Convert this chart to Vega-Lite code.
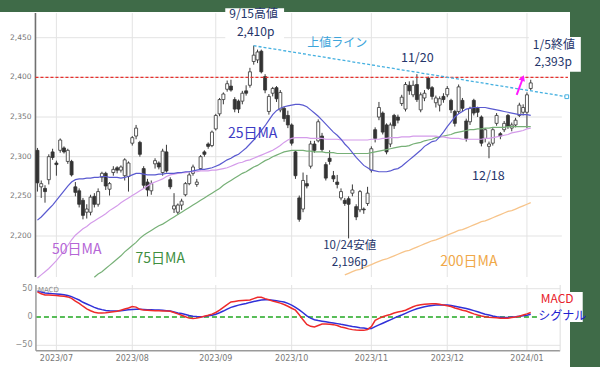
{
"$schema":"https://vega.github.io/schema/vega-lite/v6.json",
"width":570,"height":355,
"autosize":{"type":"none"},
"padding":{"left":0,"top":12,"right":30,"bottom":0},
"background":"#3f6b48",
"config":{"view":{"fill":"#ffffff","stroke":null},"text":{"font":"Noto Sans CJK JP"}},
"datasets":{"d":[
{"i":0,"o":2308,"h":2311,"l":2256,"c":2267,"ma25":2220,"ma50":2147,"macd":44.5,"signal":46},
{"i":1,"o":2262,"h":2270,"l":2248,"c":2266,"ma25":2224,"ma50":2151,"macd":41,"signal":44},
{"i":2,"o":2260,"h":2264,"l":2242,"c":2256,"ma25":2229,"ma50":2155,"macd":39,"signal":42.5},
{"i":3,"o":2271,"h":2303,"l":2265,"c":2300,"ma25":2234,"ma50":2159,"macd":38.7,"signal":41.8},
{"i":4,"o":2306,"h":2310,"l":2296,"c":2299,"ma25":2239,"ma50":2164,"macd":38.3,"signal":41.3},
{"i":5,"o":2292,"h":2295,"l":2276,"c":2290,"ma25":2245,"ma50":2169,"macd":37.8,"signal":40.6},
{"i":6,"o":2308,"h":2323,"l":2305,"c":2321,"ma25":2251,"ma50":2175,"macd":37.2,"signal":40},
{"i":7,"o":2311,"h":2313,"l":2304,"c":2306,"ma25":2257,"ma50":2181,"macd":36.5,"signal":39.3},
{"i":8,"o":2294,"h":2310,"l":2291,"c":2308,"ma25":2263,"ma50":2188,"macd":35.5,"signal":38},
{"i":9,"o":2294,"h":2296,"l":2275,"c":2277,"ma25":2268,"ma50":2195,"macd":33,"signal":36},
{"i":10,"o":2262,"h":2268,"l":2250,"c":2255,"ma25":2271,"ma50":2201,"macd":28,"signal":33},
{"i":11,"o":2257,"h":2260,"l":2236,"c":2240,"ma25":2272,"ma50":2205,"macd":24,"signal":30},
{"i":12,"o":2245,"h":2248,"l":2221,"c":2226,"ma25":2272,"ma50":2209,"macd":19,"signal":26},
{"i":13,"o":2230,"h":2240,"l":2222,"c":2234,"ma25":2273,"ma50":2212,"macd":14.5,"signal":23},
{"i":14,"o":2230,"h":2252,"l":2226,"c":2249,"ma25":2273,"ma50":2216,"macd":11,"signal":20},
{"i":15,"o":2250,"h":2254,"l":2236,"c":2240,"ma25":2274,"ma50":2219,"ma75":2148,"macd":8.5,"signal":17},
{"i":16,"o":2240,"h":2260,"l":2237,"c":2256,"ma25":2274,"ma50":2222,"ma75":2152,"macd":7,"signal":14.7},
{"i":17,"o":2274,"h":2281,"l":2268,"c":2279,"ma25":2275,"ma50":2225,"ma75":2155,"macd":7,"signal":13},
{"i":18,"o":2279,"h":2281,"l":2258,"c":2263,"ma25":2275,"ma50":2228,"ma75":2159,"macd":7.5,"signal":11.6},
{"i":19,"o":2259,"h":2268,"l":2251,"c":2266,"ma25":2274,"ma50":2232,"ma75":2163,"macd":8.5,"signal":11},
{"i":20,"o":2280,"h":2288,"l":2276,"c":2284,"ma25":2274,"ma50":2235,"ma75":2167,"macd":9.2,"signal":10.7},
{"i":21,"o":2286,"h":2288,"l":2279,"c":2283,"ma25":2274,"ma50":2238,"ma75":2171,"macd":10,"signal":10.7},
{"i":22,"o":2283,"h":2289,"l":2280,"c":2287,"ma25":2273,"ma50":2242,"ma75":2175,"macd":12,"signal":11.2},
{"i":23,"o":2276,"h":2298,"l":2270,"c":2296,"ma25":2274,"ma50":2245,"ma75":2180,"macd":14,"signal":12},
{"i":24,"o":2275,"h":2294,"l":2256,"c":2292,"ma25":2275,"ma50":2248,"ma75":2184,"macd":16,"signal":12.8},
{"i":25,"o":2317,"h":2326,"l":2314,"c":2324,"ma25":2277,"ma50":2251,"ma75":2188,"macd":18.5,"signal":13.3},
{"i":26,"o":2326,"h":2340,"l":2322,"c":2336,"ma25":2279,"ma50":2254,"ma75":2192,"macd":17.5,"signal":13.5},
{"i":27,"o":2318,"h":2320,"l":2300,"c":2303,"ma25":2279,"ma50":2257,"ma75":2197,"macd":13.5,"signal":13.5},
{"i":28,"o":2285,"h":2288,"l":2260,"c":2264,"ma25":2278,"ma50":2260,"ma75":2201,"macd":12.5,"signal":13.3},
{"i":29,"o":2268,"h":2272,"l":2250,"c":2258,"ma25":2277,"ma50":2263,"ma75":2204,"macd":12,"signal":13},
{"i":30,"o":2257,"h":2270,"l":2252,"c":2266,"ma25":2277,"ma50":2266,"ma75":2207,"macd":11.5,"signal":12.8},
{"i":31,"o":2291,"h":2298,"l":2285,"c":2295,"ma25":2277,"ma50":2268,"ma75":2210,"macd":11.2,"signal":12.5},
{"i":32,"o":2292,"h":2294,"l":2284,"c":2287,"ma25":2278,"ma50":2270,"ma75":2213,"macd":11,"signal":12.2},
{"i":33,"o":2280,"h":2310,"l":2276,"c":2307,"ma25":2278,"ma50":2272,"ma75":2215,"macd":10.8,"signal":11.8},
{"i":34,"o":2306,"h":2315,"l":2280,"c":2282,"ma25":2279,"ma50":2275,"ma75":2218,"macd":10.5,"signal":11.2},
{"i":35,"o":2271,"h":2274,"l":2259,"c":2262,"ma25":2279,"ma50":2277,"ma75":2221,"macd":10,"signal":10.5},
{"i":36,"o":2234,"h":2254,"l":2229,"c":2238,"ma25":2279,"ma50":2278,"ma75":2224,"macd":8,"signal":9},
{"i":37,"o":2230,"h":2241,"l":2227,"c":2239,"ma25":2280,"ma50":2279,"ma75":2227,"macd":5.5,"signal":7.2},
{"i":38,"o":2239,"h":2247,"l":2233,"c":2244,"ma25":2280,"ma50":2280,"ma75":2230,"macd":3,"signal":6},
{"i":39,"o":2252,"h":2268,"l":2250,"c":2266,"ma25":2281,"ma50":2280,"ma75":2233,"macd":0.5,"signal":4.3},
{"i":40,"o":2266,"h":2280,"l":2264,"c":2277,"ma25":2281,"ma50":2281,"ma75":2236,"macd":-2,"signal":2.5},
{"i":41,"o":2279,"h":2290,"l":2276,"c":2287,"ma25":2282,"ma50":2281,"ma75":2239,"macd":-2.8,"signal":1.5},
{"i":42,"o":2265,"h":2272,"l":2262,"c":2268,"ma25":2283,"ma50":2281,"ma75":2242,"macd":-2,"signal":0.9},
{"i":43,"o":2285,"h":2302,"l":2283,"c":2300,"ma25":2284,"ma50":2282,"ma75":2245,"macd":-0.5,"signal":0.6},
{"i":44,"o":2306,"h":2308,"l":2300,"c":2303,"ma25":2284,"ma50":2282,"ma75":2248,"macd":1.5,"signal":1},
{"i":45,"o":2316,"h":2318,"l":2310,"c":2313,"ma25":2285,"ma50":2282,"ma75":2251,"macd":3,"signal":2},
{"i":46,"o":2314,"h":2333,"l":2312,"c":2331,"ma25":2286,"ma50":2283,"ma75":2254,"macd":5,"signal":3},
{"i":47,"o":2335,"h":2354,"l":2333,"c":2352,"ma25":2288,"ma50":2283,"ma75":2257,"macd":8,"signal":5},
{"i":48,"o":2354,"h":2374,"l":2351,"c":2372,"ma25":2290,"ma50":2284,"ma75":2260,"macd":12,"signal":7.5},
{"i":49,"o":2372,"h":2381,"l":2366,"c":2379,"ma25":2293,"ma50":2285,"ma75":2264,"macd":17,"signal":10.5},
{"i":50,"o":2385,"h":2396,"l":2382,"c":2392,"ma25":2296,"ma50":2286,"ma75":2267,"macd":22,"signal":14},
{"i":51,"o":2389,"h":2397,"l":2382,"c":2384,"ma25":2298,"ma50":2288,"ma75":2270,"macd":26.5,"signal":17},
{"i":52,"o":2372,"h":2375,"l":2356,"c":2360,"ma25":2301,"ma50":2290,"ma75":2273,"macd":27.5,"signal":19},
{"i":53,"o":2370,"h":2372,"l":2355,"c":2360,"ma25":2303,"ma50":2292,"ma75":2276,"macd":28.5,"signal":21},
{"i":54,"o":2370,"h":2383,"l":2366,"c":2380,"ma25":2307,"ma50":2293,"ma75":2279,"macd":29,"signal":22.5},
{"i":55,"o":2383,"h":2390,"l":2377,"c":2380,"ma25":2311,"ma50":2295,"ma75":2281,"macd":29.5,"signal":24},
{"i":56,"o":2390,"h":2412,"l":2387,"c":2407,"ma25":2316,"ma50":2296,"ma75":2284,"macd":30,"signal":25.8},
{"i":57,"o":2420,"h":2440,"l":2416,"c":2428,"ma25":2321,"ma50":2298,"ma75":2287,"macd":32.5,"signal":27.3},
{"i":58,"o":2422,"h":2435,"l":2418,"c":2432,"ma25":2327,"ma50":2300,"ma75":2289,"macd":35,"signal":28.8},
{"i":59,"o":2433,"h":2435,"l":2405,"c":2407,"ma25":2333,"ma50":2302,"ma75":2292,"macd":35,"signal":30},
{"i":60,"o":2401,"h":2404,"l":2380,"c":2384,"ma25":2339,"ma50":2304,"ma75":2295,"macd":32.5,"signal":30.6},
{"i":61,"o":2357,"h":2379,"l":2353,"c":2376,"ma25":2346,"ma50":2306,"ma75":2297,"macd":30.5,"signal":30.3},
{"i":62,"o":2380,"h":2388,"l":2376,"c":2386,"ma25":2353,"ma50":2308,"ma75":2300,"macd":28,"signal":29.6},
{"i":63,"o":2387,"h":2389,"l":2369,"c":2373,"ma25":2358,"ma50":2311,"ma75":2302,"macd":26.5,"signal":28.8},
{"i":64,"o":2359,"h":2384,"l":2356,"c":2381,"ma25":2361,"ma50":2314,"ma75":2304,"macd":24.5,"signal":27.6},
{"i":65,"o":2361,"h":2363,"l":2344,"c":2348,"ma25":2363,"ma50":2318,"ma75":2306,"macd":22,"signal":26.5},
{"i":66,"o":2352,"h":2358,"l":2336,"c":2340,"ma25":2364,"ma50":2321,"ma75":2307,"macd":19,"signal":24},
{"i":67,"o":2340,"h":2342,"l":2314,"c":2317,"ma25":2365,"ma50":2323,"ma75":2308,"macd":15.5,"signal":21},
{"i":68,"o":2306,"h":2308,"l":2272,"c":2276,"ma25":2366,"ma50":2324,"ma75":2308,"macd":12,"signal":17},
{"i":69,"o":2248,"h":2251,"l":2218,"c":2221,"ma25":2366,"ma50":2324,"ma75":2308,"macd":4,"signal":12.5},
{"i":70,"o":2234,"h":2280,"l":2230,"c":2270,"ma25":2365,"ma50":2324,"ma75":2308,"macd":-5,"signal":7.5},
{"i":71,"o":2266,"h":2277,"l":2260,"c":2263,"ma25":2363,"ma50":2324,"ma75":2307,"macd":-13,"signal":2},
{"i":72,"o":2288,"h":2320,"l":2285,"c":2316,"ma25":2359,"ma50":2323,"ma75":2307,"macd":-16.5,"signal":-2},
{"i":73,"o":2316,"h":2320,"l":2305,"c":2308,"ma25":2355,"ma50":2323,"ma75":2306,"macd":-17.5,"signal":-4.7},
{"i":74,"o":2320,"h":2347,"l":2318,"c":2344,"ma25":2351,"ma50":2323,"ma75":2306,"macd":-15,"signal":-6.2},
{"i":75,"o":2326,"h":2330,"l":2306,"c":2309,"ma25":2346,"ma50":2323,"ma75":2306,"macd":-12.5,"signal":-7.4},
{"i":76,"o":2290,"h":2293,"l":2270,"c":2273,"ma25":2341,"ma50":2322,"ma75":2305,"macd":-12.5,"signal":-8.5},
{"i":77,"o":2298,"h":2308,"l":2290,"c":2294,"ma25":2336,"ma50":2322,"ma75":2305,"macd":-13,"signal":-9.6},
{"i":78,"o":2276,"h":2282,"l":2268,"c":2272,"ma25":2331,"ma50":2322,"ma75":2305,"macd":-13.5,"signal":-10.6},
{"i":79,"o":2268,"h":2277,"l":2260,"c":2265,"ma25":2327,"ma50":2322,"ma75":2304,"macd":-15,"signal":-11.7},
{"i":80,"o":2248,"h":2260,"l":2245,"c":2256,"ma25":2322,"ma50":2321,"ma75":2304,"macd":-17.5,"signal":-13},
{"i":81,"o":2245,"h":2248,"l":2238,"c":2241,"ma25":2316,"ma50":2321,"ma75":2304,"ma200":2151,"macd":-19,"signal":-14},
{"i":82,"o":2247,"h":2250,"l":2197,"c":2240,"ma25":2311,"ma50":2321,"ma75":2304,"ma200":2153,"macd":-21,"signal":-15.5},
{"i":83,"o":2254,"h":2265,"l":2250,"c":2258,"ma25":2305,"ma50":2321,"ma75":2304,"ma200":2155,"macd":-22.3,"signal":-16.8},
{"i":84,"o":2237,"h":2240,"l":2220,"c":2224,"ma25":2299,"ma50":2321,"ma75":2304,"ma200":2157,"macd":-23,"signal":-17.8},
{"i":85,"o":2233,"h":2258,"l":2230,"c":2256,"ma25":2294,"ma50":2321,"ma75":2304,"ma200":2158,"macd":-23.5,"signal":-18.8},
{"i":86,"o":2234,"h":2236,"l":2228,"c":2233,"ma25":2289,"ma50":2321,"ma75":2304,"ma200":2160,"macd":-23.6,"signal":-19.5},
{"i":87,"o":2241,"h":2262,"l":2238,"c":2254,"ma25":2286,"ma50":2321,"ma75":2304,"ma200":2162,"macd":-22,"signal":-20.7},
{"i":88,"o":2283,"h":2313,"l":2280,"c":2310,"ma25":2283,"ma50":2322,"ma75":2305,"ma200":2164,"macd":-17,"signal":-20.5},
{"i":89,"o":2334,"h":2337,"l":2318,"c":2323,"ma25":2282,"ma50":2322,"ma75":2306,"ma200":2166,"macd":-6,"signal":-17},
{"i":90,"o":2350,"h":2369,"l":2346,"c":2362,"ma25":2281,"ma50":2322,"ma75":2307,"ma200":2168,"macd":-2.5,"signal":-14},
{"i":91,"o":2355,"h":2357,"l":2328,"c":2331,"ma25":2281,"ma50":2323,"ma75":2308,"ma200":2170,"macd":0.5,"signal":-11},
{"i":92,"o":2340,"h":2342,"l":2303,"c":2306,"ma25":2281,"ma50":2323,"ma75":2309,"ma200":2171,"macd":2.5,"signal":-8},
{"i":93,"o":2316,"h":2343,"l":2312,"c":2340,"ma25":2282,"ma50":2324,"ma75":2310,"ma200":2173,"macd":4.5,"signal":-5},
{"i":94,"o":2352,"h":2354,"l":2335,"c":2339,"ma25":2284,"ma50":2324,"ma75":2311,"ma200":2175,"macd":7,"signal":-2},
{"i":95,"o":2350,"h":2353,"l":2342,"c":2346,"ma25":2285,"ma50":2324,"ma75":2312,"ma200":2177,"macd":8.8,"signal":1},
{"i":96,"o":2367,"h":2378,"l":2364,"c":2375,"ma25":2288,"ma50":2325,"ma75":2313,"ma200":2179,"macd":10,"signal":3.5},
{"i":97,"o":2360,"h":2394,"l":2357,"c":2391,"ma25":2292,"ma50":2325,"ma75":2313,"ma200":2181,"macd":12,"signal":6.5},
{"i":98,"o":2390,"h":2395,"l":2378,"c":2383,"ma25":2296,"ma50":2325,"ma75":2314,"ma200":2182,"macd":15,"signal":9.5},
{"i":99,"o":2378,"h":2396,"l":2375,"c":2390,"ma25":2300,"ma50":2326,"ma75":2316,"ma200":2184,"macd":18,"signal":12.2},
{"i":100,"o":2391,"h":2404,"l":2369,"c":2372,"ma25":2304,"ma50":2326,"ma75":2317,"ma200":2186,"macd":20.5,"signal":14.7},
{"i":101,"o":2359,"h":2381,"l":2356,"c":2378,"ma25":2308,"ma50":2326,"ma75":2318,"ma200":2188,"macd":21.5,"signal":16.3},
{"i":102,"o":2374,"h":2384,"l":2370,"c":2380,"ma25":2313,"ma50":2326,"ma75":2320,"ma200":2190,"macd":22.5,"signal":18},
{"i":103,"o":2399,"h":2401,"l":2384,"c":2386,"ma25":2316,"ma50":2326,"ma75":2321,"ma200":2192,"macd":23,"signal":19.5},
{"i":104,"o":2387,"h":2389,"l":2372,"c":2376,"ma25":2319,"ma50":2326,"ma75":2322,"ma200":2194,"macd":23.5,"signal":20.5},
{"i":105,"o":2368,"h":2377,"l":2362,"c":2374,"ma25":2320,"ma50":2326,"ma75":2324,"ma200":2195,"macd":23.5,"signal":21.3},
{"i":106,"o":2365,"h":2376,"l":2357,"c":2373,"ma25":2325,"ma50":2325,"ma75":2325,"ma200":2197,"macd":22.5,"signal":21.5},
{"i":107,"o":2376,"h":2380,"l":2368,"c":2372,"ma25":2331,"ma50":2325,"ma75":2326,"ma200":2199,"macd":21,"signal":21.4},
{"i":108,"o":2378,"h":2389,"l":2375,"c":2386,"ma25":2338,"ma50":2324,"ma75":2327,"ma200":2201,"macd":20,"signal":21.2},
{"i":109,"o":2371,"h":2373,"l":2355,"c":2359,"ma25":2344,"ma50":2323,"ma75":2328,"ma200":2203,"macd":18.5,"signal":20.2},
{"i":110,"o":2357,"h":2359,"l":2338,"c":2342,"ma25":2350,"ma50":2323,"ma75":2330,"ma200":2205,"macd":16,"signal":18.8},
{"i":111,"o":2357,"h":2391,"l":2354,"c":2388,"ma25":2354,"ma50":2323,"ma75":2331,"ma200":2207,"macd":14,"signal":17.5},
{"i":112,"o":2371,"h":2374,"l":2357,"c":2361,"ma25":2357,"ma50":2322,"ma75":2332,"ma200":2208,"macd":12,"signal":16.3},
{"i":113,"o":2345,"h":2348,"l":2319,"c":2323,"ma25":2360,"ma50":2322,"ma75":2333,"ma200":2210,"macd":10.5,"signal":15.1},
{"i":114,"o":2344,"h":2363,"l":2340,"c":2361,"ma25":2361,"ma50":2322,"ma75":2334,"ma200":2212,"macd":8,"signal":13.2},
{"i":115,"o":2371,"h":2373,"l":2352,"c":2355,"ma25":2362,"ma50":2322,"ma75":2334,"ma200":2214,"macd":5.5,"signal":11.3},
{"i":116,"o":2361,"h":2363,"l":2350,"c":2356,"ma25":2362,"ma50":2322,"ma75":2335,"ma200":2216,"macd":3.5,"signal":9.3},
{"i":117,"o":2350,"h":2352,"l":2313,"c":2317,"ma25":2362,"ma50":2322,"ma75":2335,"ma200":2218,"macd":1.8,"signal":7},
{"i":118,"o":2323,"h":2336,"l":2318,"c":2334,"ma25":2362,"ma50":2323,"ma75":2336,"ma200":2219,"macd":0.6,"signal":5},
{"i":119,"o":2313,"h":2319,"l":2298,"c":2316,"ma25":2361,"ma50":2323,"ma75":2336,"ma200":2221,"macd":-0.3,"signal":3.4},
{"i":120,"o":2317,"h":2336,"l":2314,"c":2334,"ma25":2360,"ma50":2324,"ma75":2337,"ma200":2223,"macd":-1,"signal":1.6},
{"i":121,"o":2342,"h":2355,"l":2339,"c":2352,"ma25":2359,"ma50":2325,"ma75":2337,"ma200":2225,"macd":-1.5,"signal":0.5},
{"i":122,"o":2329,"h":2331,"l":2322,"c":2326,"ma25":2358,"ma50":2326,"ma75":2337,"ma200":2227,"macd":-2,"signal":-0.3},
{"i":123,"o":2334,"h":2345,"l":2331,"c":2342,"ma25":2357,"ma50":2327,"ma75":2337,"ma200":2229,"macd":-2.4,"signal":-1},
{"i":124,"o":2352,"h":2354,"l":2335,"c":2338,"ma25":2356,"ma50":2328,"ma75":2338,"ma200":2231,"macd":-2,"signal":-0.8},
{"i":125,"o":2336,"h":2343,"l":2332,"c":2340,"ma25":2355,"ma50":2330,"ma75":2338,"ma200":2232,"macd":-1,"signal":0},
{"i":126,"o":2340,"h":2349,"l":2337,"c":2346,"ma25":2354,"ma50":2331,"ma75":2338,"ma200":2234,"macd":0,"signal":0.6},
{"i":127,"o":2352,"h":2368,"l":2350,"c":2365,"ma25":2353,"ma50":2332,"ma75":2338,"ma200":2236,"macd":1.5,"signal":1.4},
{"i":128,"o":2356,"h":2366,"l":2352,"c":2362,"ma25":2353,"ma50":2333,"ma75":2338,"ma200":2238,"macd":3.5,"signal":2.2},
{"i":129,"o":2356,"h":2381,"l":2336,"c":2378,"ma25":2353,"ma50":2335,"ma75":2338,"ma200":2240,"macd":5.5,"signal":3.2},
{"i":130,"o":2386,"h":2397,"l":2384,"c":2393,"ma25":2352,"ma50":2336,"ma75":2338,"ma200":2242,"macd":8,"signal":4.7}
]},
"data":{"name":"d"},
"resolve":{"scale":{"y":"independent"}},
"layer":[
{"layer":[
{"data":{"values":[{"v":2200},{"v":2250},{"v":2300},{"v":2350},{"v":2400},{"v":2450}]},
 "mark":{"type":"rule","color":"#e3e3e3","strokeWidth":1},
 "encoding":{"x":{"datum":-0.518,"type":"quantitative","scale":{"domain":[-8.545,139.03],"nice":false,"zero":false},"axis":null},"x2":{"datum":138.2},
  "y":{"field":"v","type":"quantitative","scale":{"domain":[2034.84,2482.4],"nice":false,"zero":false},"axis":null}}},
{"data":{"values":[{"v":2200},{"v":2250},{"v":2300},{"v":2350},{"v":2400},{"v":2450}]},
 "mark":{"type":"text","font":"DejaVu Sans","fontSize":7.5,"color":"#777777","align":"right","baseline":"middle"},
 "encoding":{"x":{"datum":-1.554,"type":"quantitative","scale":{"domain":[-8.545,139.03],"nice":false,"zero":false},"axis":null},
  "y":{"field":"v","type":"quantitative","scale":{"domain":[2034.84,2482.4],"nice":false,"zero":false},"axis":null},
  "text":{"field":"v","type":"quantitative","format":","}}},
{"data":{"values":[{"i":5},{"i":25},{"i":47},{"i":67},{"i":88},{"i":108},{"i":129}]},
 "mark":{"type":"rule","color":"#e3e3e3","strokeWidth":1},
 "encoding":{"x":{"field":"i","type":"quantitative","scale":{"domain":[-8.545,139.03],"nice":false,"zero":false},"axis":null},
  "y":{"datum":2481,"type":"quantitative","scale":{"domain":[2034.84,2482.4],"nice":false,"zero":false},"axis":null},"y2":{"datum":2148.3}}},
{"data":{"values":[{}]},
 "mark":{"type":"rule","color":"#707070","strokeWidth":1.6},
 "encoding":{"x":{"datum":-0.518,"type":"quantitative","scale":{"domain":[-8.545,139.03],"nice":false,"zero":false},"axis":null},
  "y":{"datum":2481,"type":"quantitative","scale":{"domain":[2034.84,2482.4],"nice":false,"zero":false},"axis":null},"y2":{"datum":2148.3}}},
{"data":{"values":[{}]},
 "mark":{"type":"rect","fill":"#ffffff"},
 "encoding":{"x":{"datum":49.5,"type":"quantitative","scale":{"domain":[-8.545,139.03],"nice":false,"zero":false},"axis":null},"x2":{"datum":65},
  "y":{"datum":2487,"type":"quantitative","scale":{"domain":[2034.84,2482.4],"nice":false,"zero":false},"axis":null},"y2":{"datum":2447}}},
{"data":{"values":[{}]},
 "mark":{"type":"rect","fill":"#ffffff"},
 "encoding":{"x":{"datum":129.5,"type":"quantitative","scale":{"domain":[-8.545,139.03],"nice":false,"zero":false},"axis":null},"x2":{"datum":143.2},
  "y":{"datum":2451,"type":"quantitative","scale":{"domain":[2034.84,2482.4],"nice":false,"zero":false},"axis":null},"y2":{"datum":2407}}},
{"mark":{"type":"rule","color":"#3a3a3a","strokeWidth":1},
 "encoding":{"x":{"field":"i","type":"quantitative","scale":{"domain":[-8.545,139.03],"nice":false,"zero":false},"axis":null},
  "y":{"field":"l","type":"quantitative","scale":{"domain":[2034.84,2482.4],"nice":false,"zero":false},"axis":null},"y2":{"field":"h"}}},
{"mark":{"type":"bar","width":3,"stroke":"#333333","strokeWidth":0.8},
 "encoding":{"x":{"field":"i","type":"quantitative","scale":{"domain":[-8.545,139.03],"nice":false,"zero":false},"axis":null},
  "y":{"field":"o","type":"quantitative","scale":{"domain":[2034.84,2482.4],"nice":false,"zero":false},"axis":null},"y2":{"field":"c"},
  "fill":{"condition":{"test":"datum.c >= datum.o","value":"#ffffff"},"value":"#333333"}}},
{"mark":{"type":"line","color":"#f7c48a","strokeWidth":1.3},
 "encoding":{"x":{"field":"i","type":"quantitative","scale":{"domain":[-8.545,139.03],"nice":false,"zero":false},"axis":null},
  "y":{"field":"ma200","type":"quantitative","scale":{"domain":[2034.84,2482.4],"nice":false,"zero":false},"axis":null}}},
{"mark":{"type":"line","color":"#77b077","strokeWidth":1.2},
 "encoding":{"x":{"field":"i","type":"quantitative","scale":{"domain":[-8.545,139.03],"nice":false,"zero":false},"axis":null},
  "y":{"field":"ma75","type":"quantitative","scale":{"domain":[2034.84,2482.4],"nice":false,"zero":false},"axis":null}}},
{"mark":{"type":"line","color":"#d49bea","strokeWidth":1.2},
 "encoding":{"x":{"field":"i","type":"quantitative","scale":{"domain":[-8.545,139.03],"nice":false,"zero":false},"axis":null},
  "y":{"field":"ma50","type":"quantitative","scale":{"domain":[2034.84,2482.4],"nice":false,"zero":false},"axis":null}}},
{"mark":{"type":"line","color":"#5a5ad0","strokeWidth":1.2},
 "encoding":{"x":{"field":"i","type":"quantitative","scale":{"domain":[-8.545,139.03],"nice":false,"zero":false},"axis":null},
  "y":{"field":"ma25","type":"quantitative","scale":{"domain":[2034.84,2482.4],"nice":false,"zero":false},"axis":null}}},
{"data":{"values":[{}]},
 "mark":{"type":"rule","color":"#e8302c","strokeWidth":1.3,"strokeDash":[3,2]},
 "encoding":{"x":{"datum":-0.518,"type":"quantitative","scale":{"domain":[-8.545,139.03],"nice":false,"zero":false},"axis":null},"x2":{"datum":139.8},
  "y":{"datum":2400,"type":"quantitative","scale":{"domain":[2034.84,2482.4],"nice":false,"zero":false},"axis":null}}},
{"data":{"values":[{"i":56.97,"v":2439.9},{"i":139.5,"v":2375.6}]},
 "mark":{"type":"line","color":"#45b0e0","strokeWidth":1.3,"strokeDash":[3,2]},
 "encoding":{"x":{"field":"i","type":"quantitative","scale":{"domain":[-8.545,139.03],"nice":false,"zero":false},"axis":null},
  "y":{"field":"v","type":"quantitative","scale":{"domain":[2034.84,2482.4],"nice":false,"zero":false},"axis":null}}},
{"data":{"values":[{"i":139.5,"v":2375.6}]},
 "mark":{"type":"point","shape":"square","size":14,"filled":true,"fill":"#ffffff","stroke":"#45b0e0","strokeWidth":1,"opacity":1},
 "encoding":{"x":{"field":"i","type":"quantitative","scale":{"domain":[-8.545,139.03],"nice":false,"zero":false},"axis":null},
  "y":{"field":"v","type":"quantitative","scale":{"domain":[2034.84,2482.4],"nice":false,"zero":false},"axis":null}}},
{"data":{"values":[{"i":126.3,"v":2377.8},{"i":127.75,"v":2396.7}]},
 "mark":{"type":"line","color":"#ff19ff","strokeWidth":2},
 "encoding":{"x":{"field":"i","type":"quantitative","scale":{"domain":[-8.545,139.03],"nice":false,"zero":false},"axis":null},
  "y":{"field":"v","type":"quantitative","scale":{"domain":[2034.84,2482.4],"nice":false,"zero":false},"axis":null}}},
{"data":{"values":[{"i":127.9,"v":2399.2}]},
 "mark":{"type":"point","shape":"triangle-up","size":45,"filled":true,"color":"#ff19ff","angle":20,"opacity":1},
 "encoding":{"x":{"field":"i","type":"quantitative","scale":{"domain":[-8.545,139.03],"nice":false,"zero":false},"axis":null},
  "y":{"field":"v","type":"quantitative","scale":{"domain":[2034.84,2482.4],"nice":false,"zero":false},"axis":null}}},
{"data":{"values":[{}]},"mark":{"type":"text","text":"9/15高値","fontSize":12,"color":"#25356a","align":"center","baseline":"middle"},
 "encoding":{"x":{"datum":56.97,"type":"quantitative","scale":{"domain":[-8.545,139.03],"nice":false,"zero":false},"axis":null},"y":{"datum":2479.3,"type":"quantitative","scale":{"domain":[2034.84,2482.4],"nice":false,"zero":false},"axis":null}}},
{"data":{"values":[{}]},"mark":{"type":"text","text":"2,410p","fontSize":12,"color":"#25356a","align":"center","baseline":"middle"},
 "encoding":{"x":{"datum":57.5,"type":"quantitative","scale":{"domain":[-8.545,139.03],"nice":false,"zero":false},"axis":null},"y":{"datum":2457.4,"type":"quantitative","scale":{"domain":[2034.84,2482.4],"nice":false,"zero":false},"axis":null}}},
{"data":{"values":[{}]},"mark":{"type":"text","text":"上値ライン","fontSize":12,"color":"#3da5db","align":"center","baseline":"middle"},
 "encoding":{"x":{"datum":79.0,"type":"quantitative","scale":{"domain":[-8.545,139.03],"nice":false,"zero":false},"axis":null},"y":{"datum":2442.7,"type":"quantitative","scale":{"domain":[2034.84,2482.4],"nice":false,"zero":false},"axis":null}}},
{"data":{"values":[{}]},"mark":{"type":"text","text":"11/20","fontSize":12.5,"color":"#25356a","align":"center","baseline":"middle"},
 "encoding":{"x":{"datum":100.1,"type":"quantitative","scale":{"domain":[-8.545,139.03],"nice":false,"zero":false},"axis":null},"y":{"datum":2423.8,"type":"quantitative","scale":{"domain":[2034.84,2482.4],"nice":false,"zero":false},"axis":null}}},
{"data":{"values":[{}]},"mark":{"type":"text","text":"1/5終値","fontSize":12,"color":"#25356a","align":"center","baseline":"middle"},
 "encoding":{"x":{"datum":136.1,"type":"quantitative","scale":{"domain":[-8.545,139.03],"nice":false,"zero":false},"axis":null},"y":{"datum":2441.4,"type":"quantitative","scale":{"domain":[2034.84,2482.4],"nice":false,"zero":false},"axis":null}}},
{"data":{"values":[{}]},"mark":{"type":"text","text":"2,393p","fontSize":12,"color":"#25356a","align":"center","baseline":"middle"},
 "encoding":{"x":{"datum":135.9,"type":"quantitative","scale":{"domain":[-8.545,139.03],"nice":false,"zero":false},"axis":null},"y":{"datum":2418.8,"type":"quantitative","scale":{"domain":[2034.84,2482.4],"nice":false,"zero":false},"axis":null}}},
{"data":{"values":[{}]},"mark":{"type":"text","text":"25日MA","fontSize":14,"color":"#3c3cc4","align":"center","baseline":"middle"},
 "encoding":{"x":{"datum":56.7,"type":"quantitative","scale":{"domain":[-8.545,139.03],"nice":false,"zero":false},"axis":null},"y":{"datum":2328.6,"type":"quantitative","scale":{"domain":[2034.84,2482.4],"nice":false,"zero":false},"axis":null}}},
{"data":{"values":[{}]},"mark":{"type":"text","text":"50日MA","fontSize":14,"color":"#b566d6","align":"center","baseline":"middle"},
 "encoding":{"x":{"datum":10.36,"type":"quantitative","scale":{"domain":[-8.545,139.03],"nice":false,"zero":false},"axis":null},"y":{"datum":2182.4,"type":"quantitative","scale":{"domain":[2034.84,2482.4],"nice":false,"zero":false},"axis":null}}},
{"data":{"values":[{}]},"mark":{"type":"text","text":"75日MA","fontSize":14,"color":"#3f8f3f","align":"center","baseline":"middle"},
 "encoding":{"x":{"datum":32.37,"type":"quantitative","scale":{"domain":[-8.545,139.03],"nice":false,"zero":false},"axis":null},"y":{"datum":2171,"type":"quantitative","scale":{"domain":[2034.84,2482.4],"nice":false,"zero":false},"axis":null}}},
{"data":{"values":[{}]},"mark":{"type":"text","text":"10/24安値","fontSize":11.5,"color":"#25356a","align":"center","baseline":"middle"},
 "encoding":{"x":{"datum":82.3,"type":"quantitative","scale":{"domain":[-8.545,139.03],"nice":false,"zero":false},"axis":null},"y":{"datum":2186.8,"type":"quantitative","scale":{"domain":[2034.84,2482.4],"nice":false,"zero":false},"axis":null}}},
{"data":{"values":[{}]},"mark":{"type":"text","text":"2,196p","fontSize":11.5,"color":"#25356a","align":"center","baseline":"middle"},
 "encoding":{"x":{"datum":82.3,"type":"quantitative","scale":{"domain":[-8.545,139.03],"nice":false,"zero":false},"axis":null},"y":{"datum":2166,"type":"quantitative","scale":{"domain":[2034.84,2482.4],"nice":false,"zero":false},"axis":null}}},
{"data":{"values":[{}]},"mark":{"type":"text","text":"200日MA","fontSize":14,"color":"#f0a848","align":"center","baseline":"middle"},
 "encoding":{"x":{"datum":113.7,"type":"quantitative","scale":{"domain":[-8.545,139.03],"nice":false,"zero":false},"axis":null},"y":{"datum":2167.3,"type":"quantitative","scale":{"domain":[2034.84,2482.4],"nice":false,"zero":false},"axis":null}}},
{"data":{"values":[{}]},"mark":{"type":"text","text":"12/18","fontSize":12.5,"color":"#25356a","align":"center","baseline":"middle"},
 "encoding":{"x":{"datum":118.85,"type":"quantitative","scale":{"domain":[-8.545,139.03],"nice":false,"zero":false},"axis":null},"y":{"datum":2275.6,"type":"quantitative","scale":{"domain":[2034.84,2482.4],"nice":false,"zero":false},"axis":null}}}
]},
{"layer":[
{"data":{"values":[{"v":50},{"v":-50}]},
 "mark":{"type":"rule","color":"#e3e3e3","strokeWidth":1},
 "encoding":{"x":{"datum":-0.39,"type":"quantitative","scale":{"domain":[-8.545,139.03],"nice":false,"zero":false},"axis":null},"x2":{"datum":137.75},
  "y":{"field":"v","type":"quantitative","scale":{"domain":[-88.34,538.87],"nice":false,"zero":false},"axis":null}}},
{"data":{"values":[{"v":50},{"v":0},{"v":-50}]},
 "mark":{"type":"text","font":"DejaVu Sans","fontSize":8,"color":"#888888","align":"right","baseline":"middle"},
 "encoding":{"x":{"datum":-1.3,"type":"quantitative","scale":{"domain":[-8.545,139.03],"nice":false,"zero":false},"axis":null},
  "y":{"field":"v","type":"quantitative","scale":{"domain":[-88.34,538.87],"nice":false,"zero":false},"axis":null},
  "text":{"field":"v","type":"quantitative","format":"d"}}},
{"data":{"values":[{"i":5,"t":"2023/07"},{"i":25,"t":"2023/08"},{"i":47,"t":"2023/09"},{"i":67,"t":"2023/10"},{"i":88,"t":"2023/11"},{"i":108,"t":"2023/12"},{"i":129,"t":"2024/01"}]},
 "mark":{"type":"text","font":"DejaVu Sans","fontSize":8,"color":"#777777","align":"center","baseline":"middle"},
 "encoding":{"x":{"field":"i","type":"quantitative","scale":{"domain":[-8.545,139.03],"nice":false,"zero":false},"axis":null},
  "y":{"datum":-74.2,"type":"quantitative","scale":{"domain":[-88.34,538.87],"nice":false,"zero":false},"axis":null},
  "text":{"field":"t"}}},
{"data":{"values":[{"i":5},{"i":25},{"i":47},{"i":67},{"i":88},{"i":108},{"i":129}]},
 "mark":{"type":"rule","color":"#e3e3e3","strokeWidth":1},
 "encoding":{"x":{"field":"i","type":"quantitative","scale":{"domain":[-8.545,139.03],"nice":false,"zero":false},"axis":null},
  "y":{"datum":56.5,"type":"quantitative","scale":{"domain":[-88.34,538.87],"nice":false,"zero":false},"axis":null},"y2":{"datum":-59.5}}},
{"data":{"values":[{}]},
 "mark":{"type":"rule","color":"#22a822","strokeWidth":1.6,"strokeDash":[5,3]},
 "encoding":{"x":{"datum":-0.39,"type":"quantitative","scale":{"domain":[-8.545,139.03],"nice":false,"zero":false},"axis":null},"x2":{"datum":137.5},
  "y":{"datum":0,"type":"quantitative","scale":{"domain":[-88.34,538.87],"nice":false,"zero":false},"axis":null}}},
{"data":{"values":[{}]},
 "mark":{"type":"rect","fill":"#ffffff"},
 "encoding":{"x":{"datum":132.1,"type":"quantitative","scale":{"domain":[-8.545,139.03],"nice":false,"zero":false},"axis":null},"x2":{"datum":143.7},
  "y":{"datum":44.2,"type":"quantitative","scale":{"domain":[-88.34,538.87],"nice":false,"zero":false},"axis":null},"y2":{"datum":-8.8}}},
{"mark":{"type":"line","color":"#3030d8","strokeWidth":1.5},
 "encoding":{"x":{"field":"i","type":"quantitative","scale":{"domain":[-8.545,139.03],"nice":false,"zero":false},"axis":null},
  "y":{"field":"signal","type":"quantitative","scale":{"domain":[-88.34,538.87],"nice":false,"zero":false},"axis":null}}},
{"mark":{"type":"line","color":"#ee2b2b","strokeWidth":1.5},
 "encoding":{"x":{"field":"i","type":"quantitative","scale":{"domain":[-8.545,139.03],"nice":false,"zero":false},"axis":null},
  "y":{"field":"macd","type":"quantitative","scale":{"domain":[-88.34,538.87],"nice":false,"zero":false},"axis":null}}},
{"data":{"values":[{}]},
 "mark":{"type":"rule","color":"#9a9a9a","strokeWidth":1.5},
 "encoding":{"x":{"datum":-0.39,"type":"quantitative","scale":{"domain":[-8.545,139.03],"nice":false,"zero":false},"axis":null},
  "y":{"datum":56.5,"type":"quantitative","scale":{"domain":[-88.34,538.87],"nice":false,"zero":false},"axis":null},"y2":{"datum":-59.5}}},
{"data":{"values":[{}]},
 "mark":{"type":"rule","color":"#9a9a9a","strokeWidth":1.5},
 "encoding":{"x":{"datum":-0.39,"type":"quantitative","scale":{"domain":[-8.545,139.03],"nice":false,"zero":false},"axis":null},"x2":{"datum":137.75},
  "y":{"datum":-59.5,"type":"quantitative","scale":{"domain":[-88.34,538.87],"nice":false,"zero":false},"axis":null}}},
{"data":{"values":[{}]},
 "mark":{"type":"rule","color":"#dddddd","strokeWidth":1},
 "encoding":{"x":{"datum":137.75,"type":"quantitative","scale":{"domain":[-8.545,139.03],"nice":false,"zero":false},"axis":null},
  "y":{"datum":56.5,"type":"quantitative","scale":{"domain":[-88.34,538.87],"nice":false,"zero":false},"axis":null},"y2":{"datum":-59.5}}},
{"data":{"values":[{}]},"mark":{"type":"text","text":"MACD","fontSize":7,"font":"DejaVu Sans","color":"#8a8a8a","align":"left","baseline":"middle"},
 "encoding":{"x":{"datum":0.13,"type":"quantitative","scale":{"domain":[-8.545,139.03],"nice":false,"zero":false},"axis":null},"y":{"datum":47.7,"type":"quantitative","scale":{"domain":[-88.34,538.87],"nice":false,"zero":false},"axis":null}}},
{"data":{"values":[{}]},"mark":{"type":"text","text":"MACD","fontSize":12,"color":"#e8202a","align":"center","baseline":"middle"},
 "encoding":{"x":{"datum":136.97,"type":"quantitative","scale":{"domain":[-8.545,139.03],"nice":false,"zero":false},"axis":null},"y":{"datum":31.8,"type":"quantitative","scale":{"domain":[-88.34,538.87],"nice":false,"zero":false},"axis":null}}},
{"data":{"values":[{}]},"mark":{"type":"text","text":"シグナル","fontSize":12,"color":"#2020d0","align":"center","baseline":"middle"},
 "encoding":{"x":{"datum":138.3,"type":"quantitative","scale":{"domain":[-8.545,139.03],"nice":false,"zero":false},"axis":null},"y":{"datum":0.9,"type":"quantitative","scale":{"domain":[-88.34,538.87],"nice":false,"zero":false},"axis":null}}}
]}
]
}
